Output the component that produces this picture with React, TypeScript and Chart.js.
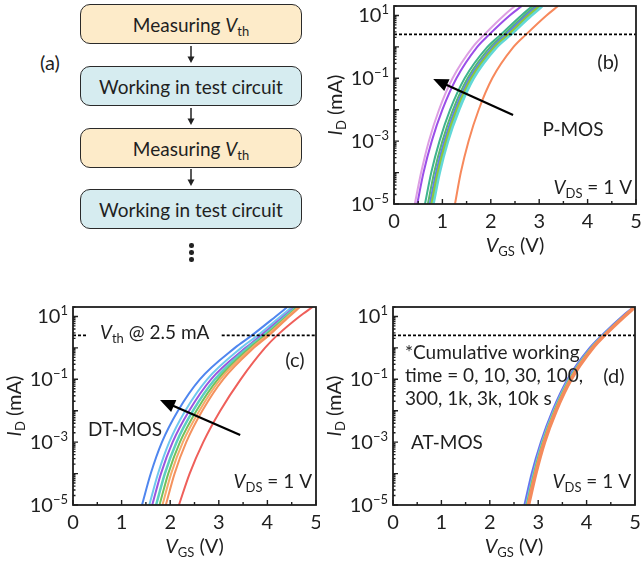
import React, { useEffect, useRef } from 'react';
import { Chart, registerables } from 'chart.js';

Chart.register(...registerables);

const FONT = 'Lato, "Open Sans", "DejaVu Sans", sans-serif';
const INK = '#1f1f1f';

// ---------- data ----------
const ID_LEVELS = [1e-5, 1e-4, 1e-3, 1e-2, 1e-1, 1, 2.5, 10, 20]; // mA
const TIME_LABELS = ['0 s', '10 s', '30 s', '100 s', '300 s', '1k s', '3k s', '10k s'];
const X_TICKS = [0, 1, 2, 3, 4, 5];
const X_MINOR = [0.5, 1.5, 2.5, 3.5, 4.5];
const Y_LABEL_EXPONENTS = [1, -1, -3, -5];
const VTH_CURRENT = 2.5;

// P-MOS: VGS (V) at each ID level
const PMOS_0S = [1.26, 1.38, 1.54, 1.75, 2.03, 2.47, 2.73, 3.15, 3.39];
const PMOS_10S = [0.8, 0.93, 1.1, 1.33, 1.63, 2.11, 2.4, 2.82, 3.05];
const PMOS_30S = [0.77, 0.9, 1.07, 1.29, 1.59, 2.07, 2.36, 2.77, 3.0];
const PMOS_100S = [0.74, 0.87, 1.04, 1.26, 1.56, 2.04, 2.32, 2.73, 2.96];
const PMOS_300S = [0.7, 0.83, 1.0, 1.22, 1.52, 1.99, 2.27, 2.69, 2.92];
const PMOS_1KS = [0.64, 0.77, 0.94, 1.16, 1.46, 1.93, 2.21, 2.63, 2.86];
const PMOS_3KS = [0.48, 0.61, 0.78, 1.0, 1.29, 1.72, 1.97, 2.39, 2.64];
const PMOS_10KS = [0.43, 0.56, 0.72, 0.93, 1.21, 1.63, 1.87, 2.27, 2.5];

// DT-MOS
const DTMOS_0S = [2.18, 2.4, 2.68, 3.03, 3.45, 3.95, 4.2, 4.66, 4.93];
const DTMOS_10S = [1.91, 2.09, 2.33, 2.66, 3.09, 3.72, 4.03, 4.45, 4.67];
const DTMOS_30S = [1.84, 2.02, 2.26, 2.6, 3.03, 3.68, 3.99, 4.42, 4.64];
const DTMOS_100S = [1.78, 1.96, 2.2, 2.54, 2.98, 3.64, 3.96, 4.4, 4.62];
const DTMOS_300S = [1.71, 1.89, 2.13, 2.47, 2.92, 3.59, 3.92, 4.37, 4.59];
const DTMOS_1KS = [1.63, 1.81, 2.05, 2.39, 2.84, 3.55, 3.87, 4.33, 4.56];
const DTMOS_3KS = [1.57, 1.75, 1.98, 2.31, 2.76, 3.46, 3.8, 4.27, 4.5];
const DTMOS_10KS = [1.42, 1.6, 1.83, 2.16, 2.61, 3.33, 3.68, 4.17, 4.41];

// AT-MOS
const ATMOS_0S = [2.8, 2.95, 3.13, 3.37, 3.68, 4.13, 4.37, 4.78, 5.0];
const ATMOS_10S = [2.79, 2.94, 3.12, 3.36, 3.67, 4.12, 4.36, 4.78, 5.0];
const ATMOS_30S = [2.78, 2.93, 3.11, 3.35, 3.66, 4.11, 4.36, 4.77, 4.99];
const ATMOS_100S = [2.77, 2.92, 3.1, 3.34, 3.65, 4.1, 4.35, 4.77, 4.99];
const ATMOS_300S = [2.76, 2.91, 3.09, 3.33, 3.64, 4.1, 4.34, 4.76, 4.99];
const ATMOS_1KS = [2.75, 2.9, 3.08, 3.32, 3.63, 4.09, 4.34, 4.76, 4.98];
const ATMOS_3KS = [2.74, 2.89, 3.07, 3.31, 3.62, 4.08, 4.33, 4.75, 4.98];
const ATMOS_10KS = [2.72, 2.87, 3.06, 3.3, 3.61, 4.07, 4.32, 4.74, 4.98];

const PMOS_COLORS = ['#f7895c', '#62d8d8', '#8dc63f', '#5b7cf0', '#58b86e', '#3fb48f', '#9b4ee8', '#dd9fe3'];
const DTMOS_COLORS = ['#ef5f5a', '#f4925e', '#f5ab6a', '#72c15c', '#5ccfc0', '#9a55e0', '#6fc8ef', '#4f86ef'];
const ATMOS_COLORS = ['#f48a5c', '#f2a070', '#f0b060', '#72c15c', '#5ccfc0', '#6fc8ef', '#9a55e0', '#5b7cf0'];

// annotation arrows (data coords: VGS, ID)
const ARROW_B_FROM = [2.46, 0.0068];
const ARROW_B_TO = [0.81, 0.095];
const ARROW_C_FROM = [3.44, 0.0017];
const ARROW_C_TO = [1.79, 0.022];
// gap in the dashed Vth line of panel (c) where its label sits
const VTH_GAP_C = [0.27, 3.06];

// ---------- helpers ----------
type Seg = { t: string; it?: boolean; sub?: boolean; sup?: boolean };

function segFont(s: Seg, size: number) {
  const sz = s.sub || s.sup ? Math.round(size * 0.66) : size;
  return `${s.it ? 'italic ' : ''}${sz}px ${FONT}`;
}

function drawRich(ctx: CanvasRenderingContext2D, segs: Seg[], x: number, y: number, size: number, align: 'left' | 'center' | 'right') {
  let w = 0;
  for (const s of segs) {
    ctx.font = segFont(s, size);
    w += ctx.measureText(s.t).width;
  }
  let cx = align === 'left' ? x : align === 'right' ? x - w : x - w / 2;
  ctx.textAlign = 'left';
  ctx.textBaseline = 'alphabetic';
  ctx.fillStyle = INK;
  for (const s of segs) {
    ctx.font = segFont(s, size);
    const dy = s.sub ? size * 0.22 : s.sup ? -size * 0.42 : 0;
    ctx.fillText(s.t, cx, y + dy);
    cx += ctx.measureText(s.t).width;
  }
}

type Area = { left: number; right: number; top: number; bottom: number };
type TextItem = { segs: Seg[]; x: (a: Area) => number; y: (a: Area) => number; size: number; align: 'left' | 'center' | 'right' };

function makeDecor(items: TextItem[], arrow?: { from: number[]; to: number[] }) {
  return {
    id: 'decor',
    afterDatasetsDraw(chart: any) {
      const { ctx, chartArea: a, scales } = chart;
      const xs = scales.x;
      const ys = scales.y;
      ctx.save();
      if (arrow) {
        const x1 = xs.getPixelForValue(arrow.from[0]);
        const y1 = ys.getPixelForValue(arrow.from[1]);
        const x2 = xs.getPixelForValue(arrow.to[0]);
        const y2 = ys.getPixelForValue(arrow.to[1]);
        const ang = Math.atan2(y2 - y1, x2 - x1);
        const hl = 15;
        const hw = 6.5;
        const bx = x2 - hl * Math.cos(ang);
        const by = y2 - hl * Math.sin(ang);
        ctx.strokeStyle = '#000';
        ctx.lineWidth = 2.2;
        ctx.beginPath();
        ctx.moveTo(x1, y1);
        ctx.lineTo(bx + 2 * Math.cos(ang), by + 2 * Math.sin(ang));
        ctx.stroke();
        ctx.fillStyle = '#000';
        ctx.beginPath();
        ctx.moveTo(x2, y2);
        ctx.lineTo(bx + hw * Math.sin(ang), by - hw * Math.cos(ang));
        ctx.lineTo(bx - hw * Math.sin(ang), by + hw * Math.cos(ang));
        ctx.closePath();
        ctx.fill();
      }
      // frame
      ctx.strokeStyle = INK;
      ctx.lineWidth = 1.8;
      ctx.strokeRect(a.left, a.top, a.right - a.left, a.bottom - a.top);
      // inward ticks
      ctx.lineWidth = 1.4;
      ctx.beginPath();
      for (const v of X_TICKS) {
        const px = xs.getPixelForValue(v);
        ctx.moveTo(px, a.bottom);
        ctx.lineTo(px, a.bottom - 5);
      }
      for (const v of X_MINOR) {
        const px = xs.getPixelForValue(v);
        ctx.moveTo(px, a.bottom);
        ctx.lineTo(px, a.bottom - 3);
      }
      for (let e = -5; e <= 1; e++) {
        for (let m = 1; m <= 9; m++) {
          const v = m * Math.pow(10, e);
          if (v > ys.max) break;
          const py = ys.getPixelForValue(v);
          ctx.moveTo(a.left, py);
          ctx.lineTo(a.left + (m === 1 ? 5 : 2.5), py);
        }
      }
      ctx.stroke();
      // x tick labels
      ctx.fillStyle = INK;
      ctx.font = `20px ${FONT}`;
      ctx.textAlign = 'center';
      ctx.textBaseline = 'alphabetic';
      for (const v of X_TICKS) ctx.fillText(String(v), xs.getPixelForValue(v), a.bottom + 24);
      // y tick labels
      for (const e of Y_LABEL_EXPONENTS) {
        const py = ys.getPixelForValue(Math.pow(10, e));
        const exp = e < 0 ? '\u2212' + Math.abs(e) : String(e);
        drawRich(ctx, [{ t: '10' }, { t: exp, sup: true }], a.left - 5, py + 7, 20, 'right');
      }
      // axis titles
      drawRich(ctx, [{ t: 'V', it: true }, { t: 'GS', sub: true }, { t: ' (V)' }], (a.left + a.right) / 2, a.bottom + 48, 20, 'center');
      ctx.save();
      ctx.translate(a.left - 52, (a.top + a.bottom) / 2);
      ctx.rotate(-Math.PI / 2);
      drawRich(ctx, [{ t: 'I', it: true }, { t: 'D', sub: true }, { t: ' (mA)' }], 0, 0, 20, 'center');
      ctx.restore();
      for (const it of items) drawRich(ctx, it.segs, it.x(a), it.y(a), it.size, it.align);
      ctx.restore();
    },
  };
}

function curveDatasets(series: number[][], colors: string[], widths: number[], orders: number[]) {
  return series.map((vgs, i) => ({
    label: TIME_LABELS[i],
    data: ID_LEVELS.map((id, k) => ({ x: vgs[k], y: id })),
    borderColor: colors[i],
    borderWidth: widths[i],
    pointRadius: 0,
    fill: false,
    cubicInterpolationMode: 'monotone' as const,
    clip: 0,
    order: orders[i],
  }));
}

function vthLine(gap?: number[]) {
  const pts = gap
    ? [
        { x: 0, y: VTH_CURRENT },
        { x: gap[0], y: VTH_CURRENT },
        { x: (gap[0] + gap[1]) / 2, y: null },
        { x: gap[1], y: VTH_CURRENT },
        { x: 5, y: VTH_CURRENT },
      ]
    : [
        { x: 0, y: VTH_CURRENT },
        { x: 5, y: VTH_CURRENT },
      ];
  return {
    label: 'Vth @ 2.5 mA',
    data: pts,
    borderColor: '#000',
    borderWidth: 1.9,
    borderDash: [3, 2],
    pointRadius: 0,
    fill: false,
    spanGaps: false,
    clip: 0,
    order: -1,
  };
}

function Panel(props: { left: number; top: number; width: number; height: number; padding: any; datasets: any[]; decor: any }) {
  const ref = useRef<HTMLCanvasElement>(null);
  useEffect(() => {
    const chart = new Chart(ref.current as HTMLCanvasElement, {
      type: 'line',
      data: { datasets: props.datasets },
      options: {
        animation: false,
        responsive: false,
        maintainAspectRatio: false,
        layout: { padding: props.padding },
        scales: {
          x: { type: 'linear', min: 0, max: 5, display: false },
          y: { type: 'logarithmic', min: 1e-5, max: 20, display: false },
        },
        plugins: { legend: { display: false }, tooltip: { enabled: false } },
        elements: { point: { radius: 0 } },
      },
      plugins: [props.decor],
    } as any);
    return () => chart.destroy();
  }, []);
  return (
    <canvas
      ref={ref}
      width={props.width}
      height={props.height}
      style={{ position: 'absolute', left: props.left, top: props.top, width: props.width, height: props.height }}
    />
  );
}

const VDS_SEGS: Seg[] = [{ t: 'V', it: true }, { t: 'DS', sub: true }, { t: ' = 1 V' }];

const decorB = makeDecor(
  [
    { segs: [{ t: '(b)' }], x: (a) => a.right - 28, y: (a) => a.top + 63, size: 20, align: 'center' },
    { segs: [{ t: 'P-MOS' }], x: (a) => a.right - 63, y: (a) => a.top + 130, size: 19, align: 'center' },
    { segs: VDS_SEGS, x: (a) => a.right - 4, y: (a) => a.bottom - 10, size: 19, align: 'right' },
  ],
  { from: ARROW_B_FROM, to: ARROW_B_TO }
);

const decorC = makeDecor(
  [
    { segs: [{ t: 'V', it: true }, { t: 'th', sub: true }, { t: ' @ 2.5 mA' }], x: (a) => a.left + 27, y: (a) => a.top + 32, size: 19, align: 'left' },
    { segs: [{ t: '(c)' }], x: (a) => a.right - 21, y: (a) => a.top + 60, size: 20, align: 'center' },
    { segs: [{ t: 'DT-MOS' }], x: (a) => a.left + 52, y: (a) => a.top + 129, size: 19, align: 'center' },
    { segs: VDS_SEGS, x: (a) => a.right - 4, y: (a) => a.bottom - 17, size: 19, align: 'right' },
  ],
  { from: ARROW_C_FROM, to: ARROW_C_TO }
);

const decorD = makeDecor([
  { segs: [{ t: '*Cumulative working' }], x: (a) => a.left + 12, y: (a) => a.top + 52, size: 19, align: 'left' },
  { segs: [{ t: 'time = 0, 10, 30, 100,' }], x: (a) => a.left + 12, y: (a) => a.top + 75, size: 19, align: 'left' },
  { segs: [{ t: '300, 1k, 3k, 10k s' }], x: (a) => a.left + 12, y: (a) => a.top + 98, size: 19, align: 'left' },
  { segs: [{ t: '(d)' }], x: (a) => a.right - 21, y: (a) => a.top + 76, size: 20, align: 'center' },
  { segs: [{ t: 'AT-MOS' }], x: (a) => a.left + 54, y: (a) => a.top + 142, size: 19, align: 'center' },
  { segs: VDS_SEGS, x: (a) => a.right - 4, y: (a) => a.bottom - 17, size: 19, align: 'right' },
]);

const datasetsB = [
  ...curveDatasets(
    [PMOS_0S, PMOS_10S, PMOS_30S, PMOS_100S, PMOS_300S, PMOS_1KS, PMOS_3KS, PMOS_10KS],
    PMOS_COLORS,
    [2, 4, 2, 2, 2, 2, 2, 2],
    [0, 10, 1, 1, 1, 1, 1, 1]
  ),
  vthLine(),
];

const datasetsC = [
  ...curveDatasets(
    [DTMOS_0S, DTMOS_10S, DTMOS_30S, DTMOS_100S, DTMOS_300S, DTMOS_1KS, DTMOS_3KS, DTMOS_10KS],
    DTMOS_COLORS,
    [2, 2, 2, 2, 2.5, 2, 2, 2],
    [0, 1, 2, 3, 4, 5, 6, 7]
  ),
  vthLine(VTH_GAP_C),
];

const datasetsD = [
  ...curveDatasets(
    [ATMOS_0S, ATMOS_10S, ATMOS_30S, ATMOS_100S, ATMOS_300S, ATMOS_1KS, ATMOS_3KS, ATMOS_10KS],
    ATMOS_COLORS,
    [3.5, 2, 2, 2, 2, 2, 2, 2.5],
    [0, 1, 2, 3, 4, 5, 6, 7]
  ),
  vthLine(),
];

// ---------- flowchart ----------
function FlowBox(props: { top: number; fill: string; children: any }) {
  return (
    <div
      style={{
        position: 'absolute',
        left: 80,
        top: props.top,
        width: 222,
        height: 40,
        boxSizing: 'border-box',
        border: '1.8px solid #2a2a2a',
        borderRadius: 10,
        background: props.fill,
        display: 'flex',
        alignItems: 'center',
        justifyContent: 'center',
        font: `19px ${FONT}`,
        color: INK,
        lineHeight: 1,
      }}
    >
      {props.children}
    </div>
  );
}

function FlowArrow(props: { top: number }) {
  return (
    <svg style={{ position: 'absolute', left: 186, top: props.top }} width={10} height={18}>
      <line x1={5} y1={0} x2={5} y2={12} stroke="#222" strokeWidth={1.5} />
      <polygon points="1.5,10.5 8.5,10.5 5,17" fill="#222" />
    </svg>
  );
}

const MEASURE = (
  <span>
    Measuring <i>V</i>
    <sub style={{ fontSize: '0.68em', verticalAlign: '-0.3em', lineHeight: 0 }}>th</sub>
  </span>
);
const WORK = <span>Working in test circuit</span>;

export default function App() {
  const yellow = '#fdebc9';
  const blue = '#d6ecf0';
  return (
    <div style={{ position: 'absolute', left: 0, top: 0, width: 641, height: 565, background: '#fff', overflow: 'hidden' }}>
      <div style={{ position: 'absolute', left: 40, top: 50, font: `20px ${FONT}`, color: INK }}>(a)</div>
      <FlowBox top={4} fill={yellow}>{MEASURE}</FlowBox>
      <FlowArrow top={46} />
      <FlowBox top={66} fill={blue}>{WORK}</FlowBox>
      <FlowArrow top={108} />
      <FlowBox top={128} fill={yellow}>{MEASURE}</FlowBox>
      <FlowArrow top={169} />
      <FlowBox top={189} fill={blue}>{WORK}</FlowBox>
      {[245, 252, 259].map((y) => (
        <div key={y} style={{ position: 'absolute', left: 189, top: y - 2, width: 4.5, height: 4.5, borderRadius: '50%', background: '#222' }} />
      ))}
      <Panel left={320} top={0} width={321} height={265} padding={{ left: 74, top: 6, right: 5, bottom: 61 }} datasets={datasetsB} decor={decorB} />
      <Panel left={0} top={280} width={320} height={285} padding={{ left: 73, top: 27, right: 4, bottom: 60 }} datasets={datasetsC} decor={decorC} />
      <Panel left={320} top={280} width={321} height={285} padding={{ left: 73, top: 27, right: 6, bottom: 60 }} datasets={datasetsD} decor={decorD} />
    </div>
  );
}
